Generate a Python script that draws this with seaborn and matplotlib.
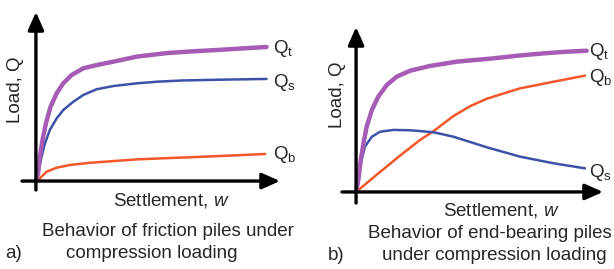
import matplotlib
matplotlib.use("Agg")
import matplotlib.pyplot as plt
import seaborn as sns

# settlement (w) and load (Q) values read off the two sketches, arbitrary units 0-10
# a) friction piles
a_qt_w = [0, 0.09, 0.16, 0.27, 0.41, 0.6, 0.85, 1.12, 1.46, 1.94, 2.49, 3.17, 4.13, 5.37, 6.4, 7.4, 8.4, 9.45]
a_qt_q = [0, 0.45, 1.44, 2.43, 3.41, 4.4, 5.19, 5.78, 6.27, 6.67, 6.86, 7.06, 7.36, 7.57, 7.67, 7.75, 7.84, 7.93]
a_qs_w = [0, 0.09, 0.23, 0.37, 0.57, 0.85, 1.12, 1.53, 1.94, 2.49, 3.17, 4.13, 5.0, 6.0, 7.7, 9.45]
a_qs_q = [0, 0.45, 1.44, 2.23, 3.02, 3.71, 4.2, 4.69, 5.09, 5.43, 5.62, 5.78, 5.88, 5.95, 6.0, 6.04]
a_qb_w = [0, 0.16, 0.44, 0.85, 1.39, 2.21, 3.17, 4.13, 5.3, 6.72, 8.0, 9.39]
a_qb_q = [0, 0.16, 0.55, 0.79, 0.95, 1.08, 1.18, 1.28, 1.35, 1.43, 1.51, 1.6]

# b) end-bearing piles
b_qt_w = [0, 0.09, 0.19, 0.3, 0.43, 0.64, 0.9, 1.24, 1.65, 2.19, 3.0, 4.08, 5.56, 6.6, 7.58, 8.5, 9.34]
b_qt_q = [0, 0.73, 1.94, 2.95, 3.96, 4.97, 5.78, 6.48, 6.99, 7.35, 7.64, 7.9, 8.1, 8.27, 8.4, 8.5, 8.56]
b_qs_w = [0, 0.09, 0.19, 0.36, 0.64, 0.97, 1.51, 2.19, 3.13, 3.94, 5.29, 6.64, 7.99, 9.27]
b_qs_q = [0, 0.53, 1.74, 2.75, 3.35, 3.65, 3.76, 3.74, 3.62, 3.35, 2.71, 2.14, 1.74, 1.43]
b_qb_w = [0, 0.84, 1.78, 2.59, 3.13, 3.94, 4.62, 5.29, 6.64, 7.99, 9.27]
b_qb_q = [0, 1.05, 2.2, 3.15, 3.68, 4.6, 5.2, 5.65, 6.28, 6.68, 7.05]

labels = ["Q$_\\mathrm{t}$", "Q$_\\mathrm{s}$", "Q$_\\mathrm{b}$"]
c_t, c_s, c_b = "#A65BB5", "#3C52A8", "#F4572A"

sns.set_style("white")
plt.rcParams["font.family"] = ["Liberation Sans", "DejaVu Sans"]
plt.rcParams["mathtext.fontset"] = "custom"
plt.rcParams["mathtext.rm"] = "Liberation Sans"
plt.rcParams["mathtext.it"] = "Liberation Sans:italic"

W, H = 614, 269
FS = 13.5
fig = plt.figure(figsize=(6.14, 2.69), dpi=100)


def make_axes(left, right, top, bottom, xmin, ymin):
    ax = fig.add_axes([left / W, 1 - bottom / H, (right - left) / W, (bottom - top) / H])
    ax.set_xlim(xmin, 10)
    ax.set_ylim(ymin, 10)
    ax.axis("off")
    arrow = dict(arrowstyle="-|>,head_length=0.9,head_width=0.4", lw=2.4,
                 color="black", mutation_scale=12, shrinkA=0, shrinkB=0)
    ax.annotate("", xy=(10, 0), xytext=(xmin, 0), arrowprops=arrow)
    ax.annotate("", xy=(0, 10), xytext=(0, ymin), arrowprops=arrow)
    return ax


# panel a
ax1 = make_axes(22, 280, 12, 190, -0.57, -0.53)
sns.lineplot(x=a_qb_w, y=a_qb_q, ax=ax1, color=c_b, lw=1.8, sort=False)
sns.lineplot(x=a_qs_w, y=a_qs_q, ax=ax1, color=c_s, lw=1.8, sort=False)
sns.lineplot(x=a_qt_w, y=a_qt_q, ax=ax1, color=c_t, lw=3.2, sort=False)
ax1.text(9.7, 7.85, labels[0], fontsize=FS, va="center")
ax1.text(9.7, 5.85, labels[1], fontsize=FS, va="center")
ax1.text(9.7, 1.55, labels[2], fontsize=FS, va="center")

# panel b
ax2 = make_axes(342, 603, 27, 203, -0.57, -0.67)
sns.lineplot(x=b_qb_w, y=b_qb_q, ax=ax2, color=c_b, lw=1.8, sort=False)
sns.lineplot(x=b_qs_w, y=b_qs_q, ax=ax2, color=c_s, lw=1.8, sort=False)
sns.lineplot(x=b_qt_w, y=b_qt_q, ax=ax2, color=c_t, lw=3.2, sort=False)
ax2.text(9.45, 8.5, labels[0], fontsize=FS, va="center")
ax2.text(9.45, 6.95, labels[2], fontsize=FS, va="center")
ax2.text(9.45, 1.15, labels[1], fontsize=FS, va="center")


# axis titles and captions
def ftext(x, y, s, **kw):
    fig.text(x / W, 1 - y / H, s, fontsize=FS, va="center", **kw)


ftext(15, 90, "Load, Q", rotation=90, ha="center")
ftext(171, 200, "Settlement, $w$", ha="center")
ftext(168, 231, "Behavior of friction piles under", ha="center")
ftext(152, 254, "compression loading", ha="center")
ftext(14, 254, "a)", ha="center")

ftext(338, 95, "Load, Q", rotation=90, ha="center")
ftext(501, 211, "Settlement, $w$", ha="center")
ftext(490, 233, "Behavior of end-bearing piles", ha="center")
ftext(494, 255, "under compression loading", ha="center")
ftext(336, 255, "b)", ha="center")

fig.savefig("out.png", dpi=100)
